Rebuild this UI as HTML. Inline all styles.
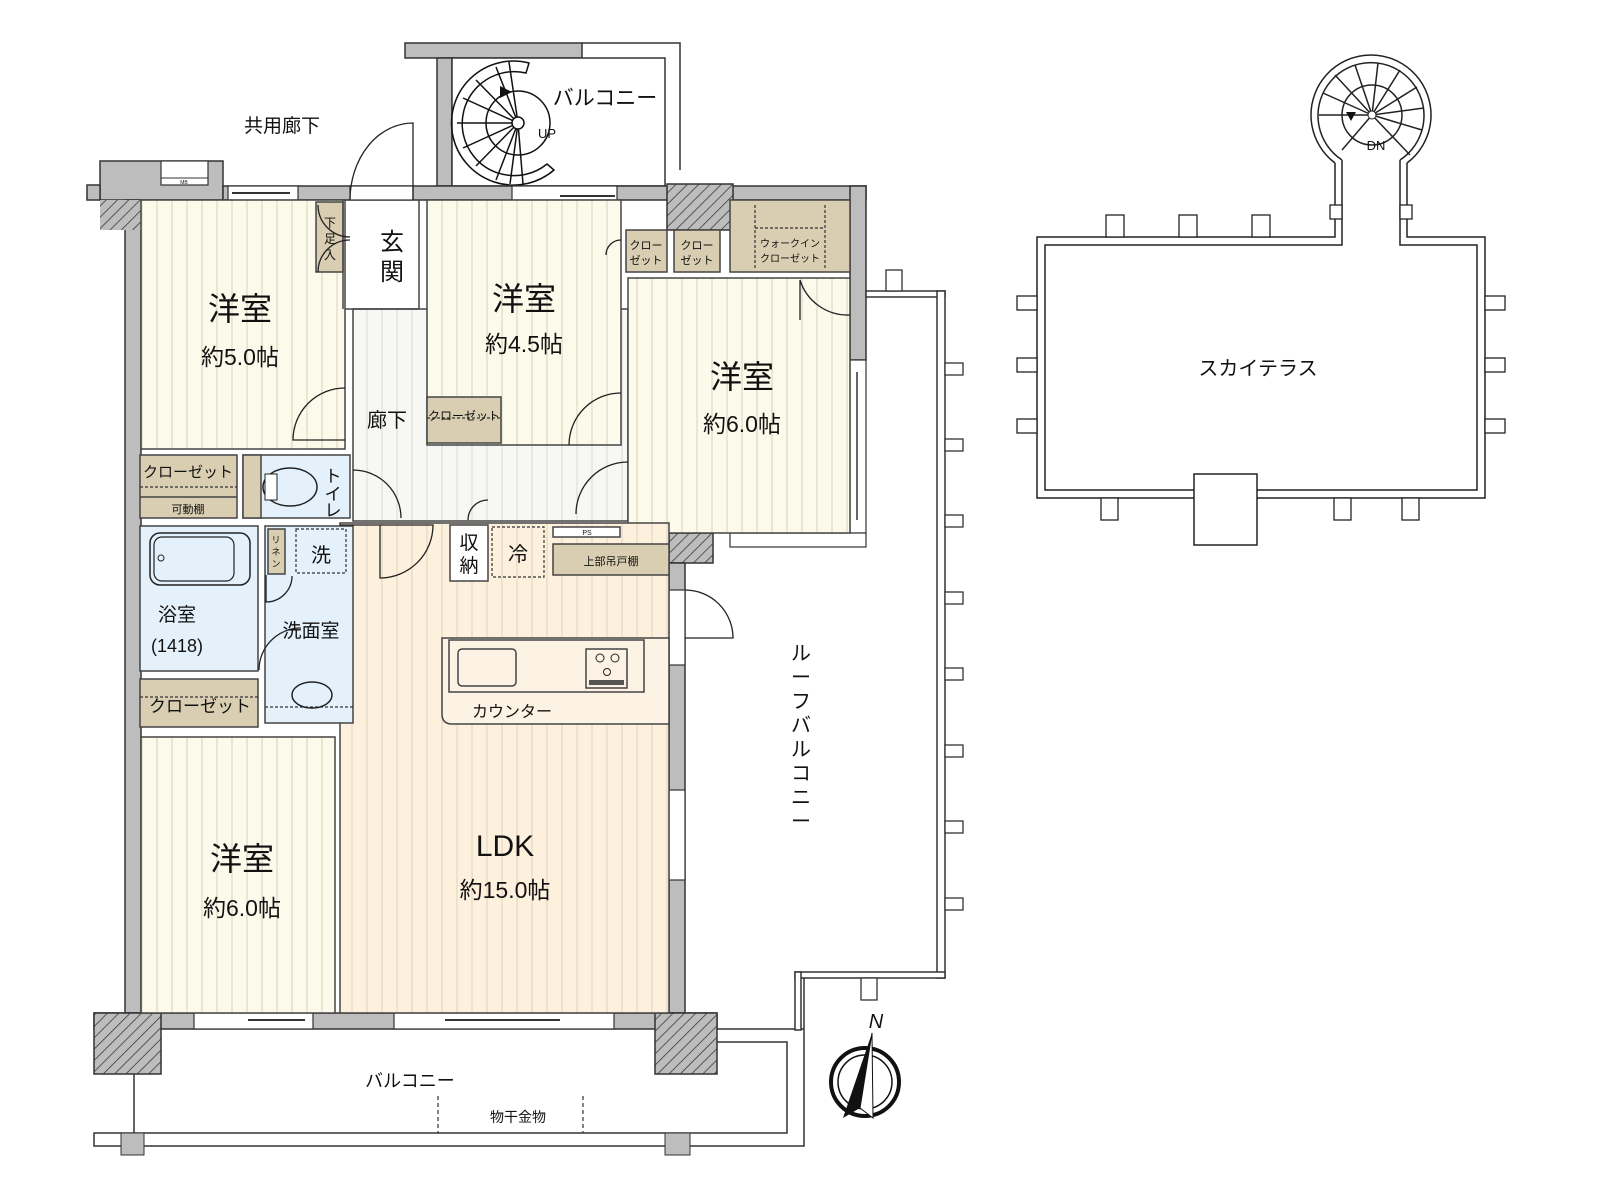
<!DOCTYPE html>
<html><head><meta charset="utf-8"><style>
html,body{margin:0;padding:0;background:#fff;}
svg{display:block;}
text{font-family:"Liberation Sans","Noto Sans CJK JP",sans-serif;fill:#111;}
</style></head><body>
<svg width="1600" height="1200" viewBox="0 0 1600 1200" xmlns="http://www.w3.org/2000/svg">
<defs>
<pattern id="st" width="15" height="10" patternUnits="userSpaceOnUse"><rect width="15" height="10" fill="#fcfaea"/><line x1="7" y1="0" x2="7" y2="10" stroke="#d6d2bf" stroke-width="1"/></pattern>
<pattern id="stl" width="15" height="10" patternUnits="userSpaceOnUse"><rect width="15" height="10" fill="#fdf0dd"/><line x1="7" y1="0" x2="7" y2="10" stroke="#dfd2bd" stroke-width="1"/></pattern>
<pattern id="sth" width="15" height="10" patternUnits="userSpaceOnUse"><rect width="15" height="10" fill="#f7f7f4"/><line x1="7" y1="0" x2="7" y2="10" stroke="#d9d9d4" stroke-width="1"/></pattern>
<pattern id="hatch" width="8" height="8" patternUnits="userSpaceOnUse" patternTransform="rotate(45)"><rect width="8" height="8" fill="#bdbdbd"/><line x1="0" y1="0" x2="0" y2="8" stroke="#333" stroke-width="1.5"/></pattern>
</defs>

<!-- top balcony -->
<rect x="405" y="43" width="177" height="15" fill="#bdbdbd" stroke="#333" stroke-width="1.5"/>
<polyline points="582,43 680,43 680,170" fill="none" stroke="#333" stroke-width="1.5"/>
<rect x="437" y="58" width="15" height="128" fill="#bdbdbd" stroke="#333" stroke-width="1.5"/>
<rect x="452" y="58" width="213" height="128" fill="#fff" stroke="#333" stroke-width="1.5"/>
<g fill="none" stroke="#111" stroke-width="1.5">
<path d="M 529,63 A 62 62 0 1 0 554,170 L 547,164 A 52 52 0 1 1 526,73 Z"/>
<circle cx="518" cy="123" r="32"/>
<line x1="518" y1="123" x2="457" y2="123"/><line x1="518" y1="123" x2="463" y2="98"/><line x1="518" y1="123" x2="476" y2="80"/><line x1="518" y1="123" x2="496" y2="67"/><line x1="518" y1="123" x2="509" y2="62"/>
<line x1="518" y1="123" x2="463" y2="148"/><line x1="518" y1="123" x2="476" y2="166"/><line x1="518" y1="123" x2="496" y2="180"/><line x1="518" y1="123" x2="510" y2="184"/><line x1="518" y1="123" x2="523" y2="184"/>
</g>
<circle cx="518" cy="123" r="6" fill="#fff" stroke="#111" stroke-width="1.5"/>
<polygon points="512,92 500,86 500,98" fill="#111"/>
<text x="547" y="138" font-size="13" text-anchor="middle">UP</text>
<text x="605" y="105" font-size="21" text-anchor="middle">バルコニー</text>

<text x="282" y="132" font-size="19" text-anchor="middle">共用廊下</text>

<!-- outer walls -->
<rect x="100" y="161" width="123" height="39" fill="#bdbdbd" stroke="#333" stroke-width="1.5"/>
<rect x="87" y="185" width="13" height="15" fill="#bdbdbd" stroke="#333" stroke-width="1.5"/>
<rect x="161" y="161" width="47" height="24" fill="#fff" stroke="#333" stroke-width="1.2"/>
<line x1="161" y1="178" x2="208" y2="178" stroke="#333"/>
<text x="184" y="184" font-size="5" text-anchor="middle">MB</text>
<rect x="223" y="186" width="643" height="14" fill="#bdbdbd" stroke="#333" stroke-width="1.5"/>
<rect x="228" y="186" width="70" height="14" fill="#fff" stroke="#333" stroke-width="1.2"/>
<line x1="232" y1="193" x2="290" y2="193" stroke="#333" stroke-width="2"/>
<rect x="350" y="186" width="63" height="14" fill="#fff" stroke="#333" stroke-width="1.2"/>
<rect x="512" y="186" width="105" height="14" fill="#fff" stroke="#333" stroke-width="1.2"/>
<line x1="560" y1="196" x2="615" y2="196" stroke="#333" stroke-width="2"/>
<rect x="667" y="184" width="66" height="46" fill="url(#hatch)" stroke="#333" stroke-width="1.5"/>
<rect x="125" y="200" width="16" height="813" fill="#bdbdbd" stroke="#333" stroke-width="1.5"/>
<rect x="100" y="200" width="61" height="30" fill="url(#hatch)" stroke="none"/>
<rect x="850" y="186" width="16" height="174" fill="#bdbdbd" stroke="#333" stroke-width="1.5"/>
<rect x="850" y="360" width="16" height="173" fill="#fff" stroke="#333" stroke-width="1.2"/>
<line x1="857" y1="372" x2="857" y2="520" stroke="#333" stroke-width="1.5"/>
<rect x="730" y="533" width="136" height="14" fill="#fff" stroke="#333" stroke-width="1.2"/>
<rect x="669" y="533" width="44" height="30" fill="url(#hatch)" stroke="#333" stroke-width="1.5"/>
<rect x="669" y="563" width="16" height="450" fill="#bdbdbd" stroke="#333" stroke-width="1.5"/>
<rect x="669" y="590" width="16" height="75" fill="#fff" stroke="#333" stroke-width="1.2"/>
<rect x="669" y="790" width="16" height="90" fill="#fff" stroke="#333" stroke-width="1.2"/>
<rect x="94" y="1013" width="623" height="16" fill="#bdbdbd" stroke="#333" stroke-width="1.5"/>
<rect x="194" y="1013" width="119" height="16" fill="#fff" stroke="#333" stroke-width="1.2"/>
<line x1="248" y1="1020" x2="305" y2="1020" stroke="#333" stroke-width="2"/>
<rect x="394" y="1013" width="220" height="16" fill="#fff" stroke="#333" stroke-width="1.2"/>
<line x1="445" y1="1020" x2="560" y2="1020" stroke="#333" stroke-width="2"/>
<rect x="94" y="1013" width="67" height="61" fill="url(#hatch)" stroke="#333" stroke-width="1.5"/>
<rect x="655" y="1013" width="62" height="61" fill="url(#hatch)" stroke="#333" stroke-width="1.5"/>

<!-- rooms -->
<g stroke="#444" stroke-width="1.5">
<rect x="141" y="200" width="204" height="249" fill="url(#st)"/>
<rect x="353" y="309" width="275" height="212" fill="url(#sth)"/>
<rect x="427" y="200" width="194" height="245" fill="url(#st)"/>
<rect x="628" y="278" width="222" height="255" fill="url(#st)"/>
<rect x="141" y="737" width="194" height="276" fill="url(#st)"/>
<rect x="340" y="523" width="329" height="490" fill="url(#stl)"/>
<rect x="140" y="455" width="97" height="63" fill="#d9ceb2"/>
<line x1="140" y1="497" x2="237" y2="497"/>
<rect x="243" y="455" width="107" height="63" fill="#e4f1fb"/>
<rect x="243" y="455" width="18" height="63" fill="#d9ceb2"/>
<rect x="140" y="526" width="118" height="145" fill="#e4f1fb"/>
<rect x="265" y="526" width="88" height="197" fill="#e4f1fb"/>
<rect x="268" y="529" width="17" height="45" fill="#d9ceb2"/>
<rect x="140" y="679" width="118" height="48" fill="#d9ceb2"/>
<rect x="316" y="202" width="27" height="70" fill="#d9ceb2"/>
<rect x="427" y="397" width="74" height="46" fill="#d9ceb2"/>
<rect x="626" y="230" width="41" height="42" fill="#d9ceb2"/>
<rect x="674" y="230" width="46" height="42" fill="#d9ceb2"/>
<rect x="730" y="200" width="120" height="72" fill="#d9ceb2"/>
<rect x="450" y="525" width="38" height="56" fill="#fff"/>
<rect x="553" y="527" width="67" height="10" fill="#fff"/>
<rect x="553" y="544" width="116" height="31" fill="#d9ceb2"/>
<path d="M 442,638 L 669,638 L 669,724 L 452,724 Q 442,724 442,714 Z" fill="#fdf3e4"/>
<rect x="449" y="640" width="195" height="52" fill="#fdf3e4"/>
<rect x="458" y="649" width="58" height="37" rx="4" fill="#fdf3e4"/>
<rect x="586" y="649" width="41" height="39" fill="#fdf3e4"/>
</g>
<line x1="345" y1="309" x2="419" y2="309" stroke="#444" stroke-width="1.5"/>
<line x1="419" y1="200" x2="419" y2="309" stroke="#444" stroke-width="1.5"/>
<line x1="343" y1="200" x2="343" y2="309" stroke="#444" stroke-width="1.5"/>
<g fill="none" stroke="#333" stroke-width="1.2" stroke-dasharray="3,2">
<rect x="296" y="529" width="50" height="44"/>
<rect x="492" y="527" width="52" height="50"/>
<line x1="140" y1="487" x2="237" y2="487"/>
<line x1="140" y1="697" x2="258" y2="697"/>
<line x1="265" y1="707" x2="353" y2="707"/>
<line x1="427" y1="418" x2="501" y2="418"/>
<line x1="755" y1="205" x2="755" y2="270"/><line x1="825" y1="205" x2="825" y2="270"/><line x1="755" y1="228" x2="825" y2="228"/>
</g>
<!-- fixtures -->
<rect x="150" y="533" width="100" height="52" rx="10" fill="none" stroke="#222" stroke-width="1.5"/>
<rect x="154" y="537" width="80" height="44" rx="8" fill="none" stroke="#222" stroke-width="1.2"/>
<circle cx="161" cy="558" r="3" fill="none" stroke="#222"/>
<ellipse cx="290" cy="487" rx="27" ry="19" fill="#e4f1fb" stroke="#222" stroke-width="1.5"/>
<rect x="265" y="474" width="12" height="26" fill="#fff" stroke="#222"/>
<ellipse cx="312" cy="695" rx="20" ry="13" fill="none" stroke="#222" stroke-width="1.5"/>
<circle cx="600" cy="658" r="4" fill="none" stroke="#222"/><circle cx="615" cy="658" r="4" fill="none" stroke="#222"/><circle cx="607" cy="672" r="3.5" fill="none" stroke="#222"/>
<rect x="589" y="680" width="35" height="5" fill="#555"/>
<!-- doors -->
<g fill="none" stroke="#222" stroke-width="1.3">
<path d="M 413,200 L 413,123 A 63 77 0 0 0 350,200"/>
<path d="M 345,388 A 52 52 0 0 0 293,440 L 345,440"/>
<path d="M 353,470 A 48 48 0 0 1 401,518"/>
<path d="M 621,393 A 52 52 0 0 0 569,445"/>
<path d="M 628,462 A 52 52 0 0 0 576,514"/>
<path d="M 340,525 L 433,525 A 53 53 0 0 1 380,578 L 380,525" />
<path d="M 488,500 A 20 20 0 0 0 468,520"/>
<path d="M 685,590 A 48 48 0 0 1 733,638 L 685,638"/>
<path d="M 259,670 A 42 42 0 0 1 301,628"/>
<path d="M 266,575 L 266,602 A 26 26 0 0 0 292,576"/>
<path d="M 850,315 A 50 50 0 0 1 800,280 L 800,320"/>
<path d="M 621,240 A 15 15 0 0 0 606,255"/>
<path d="M 318,272 A 32 32 0 0 1 350,240"/><path d="M 318,205 A 32 32 0 0 0 350,237"/>
</g>
<!-- labels -->
<g text-anchor="middle">
<text x="240" y="320" font-size="32">洋室</text><text x="240" y="365" font-size="23">約5.0帖</text>
<text x="524" y="310" font-size="32">洋室</text><text x="524" y="352" font-size="23">約4.5帖</text>
<text x="742" y="388" font-size="32">洋室</text><text x="742" y="432" font-size="23">約6.0帖</text>
<text x="242" y="870" font-size="32">洋室</text><text x="242" y="916" font-size="23">約6.0帖</text>
<text x="505" y="856" font-size="30">LDK</text><text x="505" y="898" font-size="23">約15.0帖</text>
<text x="392" y="250" font-size="24">玄</text><text x="392" y="280" font-size="24">関</text>
<text x="330" y="227" font-size="12">下</text><text x="330" y="243" font-size="12">足</text><text x="330" y="259" font-size="12">入</text>
<text x="387" y="427" font-size="20">廊下</text>
<text x="188" y="477" font-size="15">クローゼット</text><text x="188" y="513" font-size="11">可動棚</text>
<text x="333" y="482" font-size="17">ト</text><text x="333" y="500" font-size="17">イ</text><text x="333" y="516" font-size="17">レ</text>
<text x="177" y="621" font-size="19">浴室</text><text x="177" y="652" font-size="18">(1418)</text>
<text x="321" y="562" font-size="20">洗</text>
<text x="311" y="637" font-size="19">洗面室</text>
<text x="276" y="543" font-size="9">リ</text><text x="276" y="555" font-size="9">ネ</text><text x="276" y="567" font-size="9">ン</text>
<text x="200" y="712" font-size="17">クローゼット</text>
<text x="464" y="420" font-size="12">クローゼット</text>
<text x="646" y="249" font-size="11">クロー</text><text x="646" y="264" font-size="11">ゼット</text>
<text x="697" y="249" font-size="11">クロー</text><text x="697" y="264" font-size="11">ゼット</text>
<text x="790" y="247" font-size="10">ウォークイン</text><text x="790" y="262" font-size="10">クローゼット</text>
<text x="469" y="549" font-size="19">収</text><text x="469" y="572" font-size="19">納</text>
<text x="518" y="561" font-size="20">冷</text>
<text x="587" y="535" font-size="7">PS</text>
<text x="611" y="565" font-size="11">上部吊戸棚</text>
<text x="512" y="717" font-size="16">カウンター</text>
<text x="410" y="1087" font-size="18">バルコニー</text>
<text x="518" y="1122" font-size="14">物干金物</text>
</g>
<!-- balcony -->
<g fill="none" stroke="#333" stroke-width="1.5">
<polyline points="717,1029 804,1029"/>
<polyline points="717,1042 787,1042 787,1133 94,1133 94,1146 804,1146 804,975"/>
<line x1="134" y1="1074" x2="134" y2="1133"/>
</g>
<rect x="121" y="1133" width="23" height="22" fill="#bdbdbd" stroke="#333"/>
<rect x="665" y="1133" width="25" height="22" fill="#bdbdbd" stroke="#333"/>
<g stroke="#333" stroke-width="1.2" stroke-dasharray="4,3"><line x1="438" y1="1096" x2="438" y2="1133"/><line x1="583" y1="1096" x2="583" y2="1133"/></g>
<!-- roof balcony -->
<g fill="none" stroke="#333" stroke-width="1.5">
<rect x="866" y="291" width="79" height="6" fill="#fff"/>
<rect x="937" y="291" width="8" height="687" fill="#fff"/>
<rect x="795" y="972" width="150" height="6" fill="#fff"/>
<rect x="795" y="972" width="6" height="58" fill="#fff"/>
</g>
<g fill="#fff" stroke="#333" stroke-width="1.3">
<rect x="886" y="270" width="16" height="21"/>
<rect x="861" y="978" width="16" height="22"/>
<rect x="945" y="363" width="18" height="12"/><rect x="945" y="439" width="18" height="12"/><rect x="945" y="515" width="18" height="12"/><rect x="945" y="592" width="18" height="12"/><rect x="945" y="668" width="18" height="12"/><rect x="945" y="745" width="18" height="12"/><rect x="945" y="821" width="18" height="12"/><rect x="945" y="898" width="18" height="12"/>
</g>
<g text-anchor="middle" font-size="20"><text x="801" y="660">ル</text><text x="801" y="684">ー</text><text x="801" y="708">フ</text><text x="801" y="732">バ</text><text x="801" y="756">ル</text><text x="801" y="780">コ</text><text x="801" y="804">ニ</text><text x="801" y="828">ー</text></g>
<!-- compass -->
<circle cx="865" cy="1082" r="34" fill="none" stroke="#111" stroke-width="4"/>
<circle cx="865" cy="1082" r="27" fill="none" stroke="#111" stroke-width="1.5"/>
<polygon points="872,1033 843,1118 860,1108" fill="#111"/>
<polygon points="872,1033 873,1118 860,1108" fill="#fff" stroke="#111"/>
<text x="876" y="1028" font-size="20" font-style="italic" font-family="Liberation Serif,serif" text-anchor="middle">N</text>
<!-- sky terrace -->
<g fill="none" stroke="#222" stroke-width="1.5">
<polyline points="1335,163 1335,237 1037,237 1037,498 1485,498 1485,237 1407,237 1407,163"/>
<polyline points="1342,160 1342,245 1045,245 1045,490 1477,490 1477,245 1400,245 1400,160"/>
<path d="M 1335,163 A 60 60 0 1 1 1407,163"/>
<path d="M 1342,160 A 53 53 0 1 1 1400,160"/>
<circle cx="1372" cy="115" r="30"/>
<line x1="1372" y1="115" x2="1319" y2="115"/><line x1="1372" y1="115" x2="1323" y2="93"/><line x1="1372" y1="115" x2="1335" y2="75"/><line x1="1372" y1="115" x2="1355" y2="65"/><line x1="1372" y1="115" x2="1378" y2="63"/><line x1="1372" y1="115" x2="1400" y2="70"/><line x1="1372" y1="115" x2="1417" y2="87"/><line x1="1372" y1="115" x2="1424" y2="108"/><line x1="1372" y1="115" x2="1422" y2="130"/><line x1="1372" y1="115" x2="1410" y2="155"/><line x1="1372" y1="115" x2="1342" y2="150"/>
</g>
<circle cx="1372" cy="115" r="4" fill="#fff" stroke="#222"/>
<polygon points="1346,112 1356,112 1351,121" fill="#111"/>
<text x="1376" y="150" font-size="13" text-anchor="middle">DN</text>
<rect x="1194" y="474" width="63" height="71" fill="#fff" stroke="#222" stroke-width="1.5"/>
<g fill="#fff" stroke="#222" stroke-width="1.3">
<rect x="1106" y="215" width="18" height="22"/><rect x="1179" y="215" width="18" height="22"/><rect x="1252" y="215" width="18" height="22"/>
<rect x="1017" y="296" width="20" height="14"/><rect x="1017" y="358" width="20" height="14"/><rect x="1017" y="419" width="20" height="14"/>
<rect x="1485" y="296" width="20" height="14"/><rect x="1485" y="358" width="20" height="14"/><rect x="1485" y="419" width="20" height="14"/>
<rect x="1101" y="498" width="17" height="22"/><rect x="1334" y="498" width="17" height="22"/><rect x="1402" y="498" width="17" height="22"/>
<rect x="1330" y="205" width="12" height="14"/><rect x="1400" y="205" width="12" height="14"/>
</g>
<text x="1258" y="375" font-size="20" text-anchor="middle">スカイテラス</text>
</svg>
</body></html>
